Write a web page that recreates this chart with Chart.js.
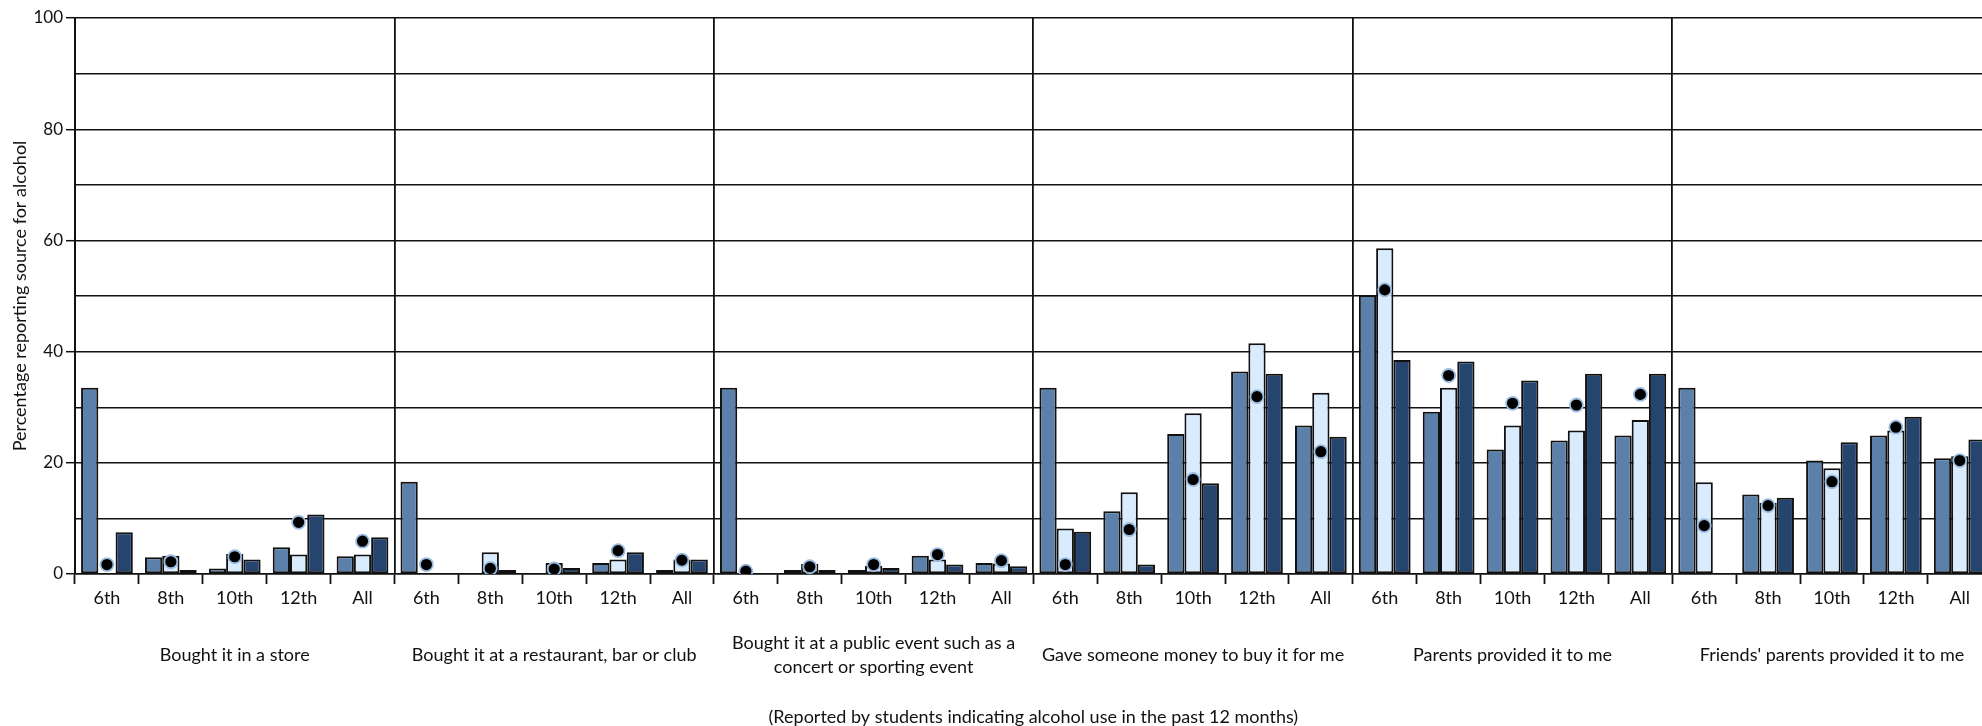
<!DOCTYPE html>
<html>
<head>
<meta charset="utf-8">
<script src="https://cdn.jsdelivr.net/npm/chart.js@4.4.1/dist/chart.umd.min.js"></script>
<style>
  html, body { margin: 0; padding: 0; overflow: hidden; background: #fff; }
  #wrap { position: relative; width: 2000px; height: 726px; }
</style>
</head>
<body>
<div id="wrap"><canvas id="c"></canvas></div>
<script>
// ---- data ----
const groups = [
  'Bought it in a store',
  'Bought it at a restaurant, bar or club',
  ['Bought it at a public event such as a', 'concert or sporting event'],
  'Gave someone money to buy it for me',
  'Parents provided it to me',
  "Friends' parents provided it to me"
];
const grades = ['6th', '8th', '10th', '12th', 'All'];

const seriesMid = [33.5, 3.0, 1.0, 4.8, 3.2,   16.6, null, null, 2.0, 0.7,   33.5, 0.7, 0.7, 3.3, 2.0,
                   33.5, 11.3, 25.2, 36.4, 26.7,   50.2, 29.2, 22.4, 24.0, 24.9,   33.5, 14.3, 20.4, 24.9, 20.8];
const seriesLight = [null, 3.3, 3.6, 3.5, 3.5,   null, 3.9, 2.0, 2.6, 2.6,   null, 1.8, 1.5, 2.6, 1.9,
                     8.2, 14.7, 28.9, 41.5, 32.6,   58.6, 33.5, 26.7, 25.8, 27.7,   16.5, 12.8, 19.0, 25.8, 21.2];
const seriesDark = [7.5, 0.7, 2.6, 10.7, 6.6,   null, 0.7, 1.1, 3.9, 2.6,   null, 0.7, 1.1, 1.7, 1.4,
                    7.6, 1.7, 16.3, 36.0, 24.7,   38.5, 38.2, 34.8, 36.0, 36.0,   null, 13.7, 23.7, 28.3, 24.2];
const seriesDots = [1.7, 2.2, 3.1, 9.3, 5.9,   1.7, 1.0, 0.9, 4.2, 2.5,   0.5, 1.3, 1.7, 3.5, 2.4,
                    1.7, 8.0, 17.0, 31.9, 22.0,   51.1, 35.7, 30.7, 30.4, 32.3,   8.7, 12.3, 16.6, 26.4, 20.4];
const yTitle = 'Percentage reporting source for alcohol';
const footnote = '(Reported by students indicating alcohol use in the past 12 months)';

const labels = groups.flatMap(() => grades);

// ---- chart ----
const FONT = "Lato, 'Open Sans', sans-serif";
Chart.defaults.font.family = FONT;
Chart.defaults.color = '#111';

const barCommon = { borderColor: '#111', borderWidth: 2, borderSkipped: false, categoryPercentage: 0.81, barPercentage: 1.0, order: 1 };

new Chart(document.getElementById('c'), {
  type: 'bar',
  data: {
    labels: labels,
    datasets: [
      { type: 'line', data: seriesDots, showLine: false, order: 0,
        pointRadius: 6.5, pointBackgroundColor: '#000', pointBorderColor: '#9bbbe0', pointBorderWidth: 1.8,
        backgroundColor: '#000', borderColor: '#9bbbe0' },
      Object.assign({ data: seriesMid, backgroundColor: '#5b80aa' }, barCommon),
      Object.assign({ data: seriesLight, backgroundColor: '#d9ecfd' }, barCommon),
      Object.assign({ data: seriesDark, backgroundColor: '#25446e' }, barCommon)
    ]
  },
  options: {
    responsive: true,
    maintainAspectRatio: false,
    animation: false,
    events: [],
    layout: { padding: { top: 18, right: 0, bottom: 0, left: 0 } },
    plugins: { legend: { display: false }, tooltip: { enabled: false } },
    scales: {
      x: {
        type: 'category',
        position: 'bottom',
        weight: 0,
        offset: true,
        grid: { offset: true, drawOnChartArea: false, drawTicks: true, tickLength: 10, tickColor: '#111', tickWidth: 1.8, color: '#111' },
        border: { display: true, color: '#111', width: 1.5 },
        ticks: { autoSkip: false, maxRotation: 0, minRotation: 0, padding: 3, font: { size: 18 }, color: '#111' },
        afterFit: (s) => { s.height = 36; }
      },
      x2: {
        type: 'category',
        position: 'bottom',
        weight: 1,
        labels: groups,
        offset: true,
        grid: { offset: true, drawOnChartArea: true, drawTicks: false, color: '#111', lineWidth: 1.8 },
        border: { display: false },
        ticks: { autoSkip: false, maxRotation: 0, minRotation: 0, padding: 33, crossAlign: 'center', font: { size: 18, lineHeight: 1.35 }, color: '#111' },
        title: { display: true, text: footnote, font: { size: 18, lineHeight: 1.0 }, padding: { top: 0, bottom: 0 }, color: '#111' },
        afterFit: (s) => { s.height = 116; }
      },
      y: {
        min: 0,
        max: 100,
        ticks: {
          stepSize: 10,
          padding: 3,
          font: { size: 17 },
          color: '#111',
          callback: (v) => (v % 20 === 0 ? v : '')
        },
        grid: {
          color: '#111',
          lineWidth: 1.4,
          tickLength: 9,
          tickWidth: 1.5,
          tickColor: (ctx) => (ctx.tick && ctx.tick.value % 20 === 0 ? '#111' : 'rgba(0,0,0,0)')
        },
        border: { display: true, color: '#111', width: 2 },
        title: { display: true, text: yTitle, font: { size: 18, lineHeight: 1.2 }, padding: { top: 9, bottom: 0 }, color: '#111' },
        afterFit: (s) => { s.width = 75; }
      }
    }
  }
});
</script>
</body>
</html>
